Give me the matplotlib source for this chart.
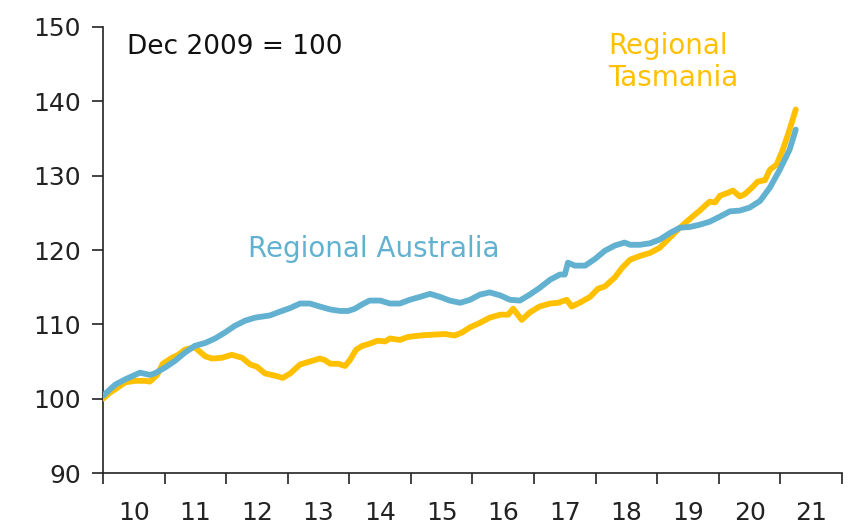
"""Regional Tasmania vs Regional Australia index (Dec 2009 = 100)."""

import matplotlib.pyplot as plt
from matplotlib.ticker import FixedLocator, NullFormatter

BLUE = "#62B1D0"
YELLOW = "#FFC000"

# Regional Australia: fractional years after Dec 2009, index values
aus_years = [
    0.00, 0.20, 0.36, 0.52, 0.60, 0.76, 0.84, 1.01, 1.17, 1.33, 1.49, 1.66,
    1.82, 1.98, 2.14, 2.31, 2.47, 2.71, 2.87, 3.04, 3.20, 3.36, 3.52, 3.69,
    3.85, 3.98, 4.09, 4.21, 4.33, 4.50, 4.66, 4.82, 4.98, 5.15, 5.31, 5.47,
    5.63, 5.80, 5.96, 6.12, 6.28, 6.45, 6.61, 6.77, 6.93, 7.09, 7.26, 7.42,
    7.50, 7.55, 7.66, 7.83, 7.99, 8.15, 8.31, 8.47, 8.56, 8.72, 8.88, 9.04,
    9.21, 9.37, 9.53, 9.69, 9.85, 10.02, 10.18, 10.34, 10.50, 10.67, 10.83,
    10.99, 11.15, 11.25,
]
aus_index = [
    100.4, 101.9, 102.6, 103.2, 103.5, 103.2, 103.4, 104.2, 105.1, 106.2,
    107.1, 107.5, 108.1, 108.9, 109.8, 110.5, 110.9, 111.2, 111.7, 112.2,
    112.8, 112.8, 112.4, 112.0, 111.8, 111.8, 112.1, 112.7, 113.2, 113.2,
    112.8, 112.8, 113.3, 113.7, 114.1, 113.7, 113.2, 112.9, 113.3, 114.0,
    114.3, 113.9, 113.3, 113.2, 114.0, 114.9, 116.0, 116.7, 116.7, 118.3,
    117.9, 117.9, 118.8, 119.9, 120.6, 121.0, 120.7, 120.7, 120.9, 121.4,
    122.3, 123.0, 123.1, 123.4, 123.8, 124.5, 125.2, 125.3, 125.7, 126.6,
    128.4, 130.8, 133.5, 136.2,
]

# Regional Tasmania
tas_years = [
    0.00, 0.11, 0.24, 0.36, 0.52, 0.68, 0.76, 0.88, 0.97, 1.12, 1.22, 1.33,
    1.49, 1.66, 1.77, 1.93, 2.09, 2.26, 2.39, 2.50, 2.63, 2.79, 2.92, 3.04,
    3.20, 3.36, 3.52, 3.60, 3.69, 3.82, 3.93, 4.01, 4.11, 4.21, 4.33, 4.46,
    4.58, 4.66, 4.82, 4.95, 5.15, 5.34, 5.55, 5.71, 5.83, 5.96, 6.12, 6.28,
    6.45, 6.58, 6.66, 6.80, 6.93, 7.09, 7.26, 7.39, 7.53, 7.61, 7.74, 7.91,
    8.04, 8.15, 8.31, 8.43, 8.56, 8.72, 8.88, 9.04, 9.21, 9.33, 9.45, 9.56,
    9.69, 9.85, 9.94, 10.02, 10.15, 10.23, 10.34, 10.42, 10.54, 10.63, 10.75,
    10.83, 10.94, 11.04, 11.15, 11.25,
]
tas_index = [
    100.0, 100.8, 101.5, 102.2, 102.4, 102.4, 102.3, 103.2, 104.7, 105.5,
    105.9, 106.6, 106.9, 105.7, 105.4, 105.5, 105.9, 105.5, 104.6, 104.3,
    103.4, 103.1, 102.8, 103.4, 104.6, 105.0, 105.4, 105.2, 104.7, 104.7,
    104.4, 105.2, 106.6, 107.1, 107.4, 107.8, 107.7, 108.1, 107.9, 108.3,
    108.5, 108.6, 108.7, 108.5, 108.9, 109.6, 110.2, 110.9, 111.3, 111.3,
    112.1, 110.6, 111.6, 112.4, 112.8, 112.9, 113.3, 112.4, 112.9, 113.7,
    114.8, 115.1, 116.3, 117.6, 118.7, 119.2, 119.6, 120.3, 121.7, 122.7,
    123.6, 124.4, 125.3, 126.5, 126.4, 127.3, 127.7, 128.0, 127.2, 127.5,
    128.4, 129.2, 129.4, 130.8, 131.5, 133.5, 136.2, 138.9,
]

year_labels = ["10", "11", "12", "13", "14", "15", "16", "17", "18", "19", "20", "21"]
y_ticks = [90, 100, 110, 120, 130, 140, 150]

START = 2010

fig = plt.figure(figsize=(8.6, 5.25), dpi=100)
ax = fig.add_axes([0.1198, 0.099, 0.979 - 0.1198, 0.9486 - 0.099])

ax.plot([START + t for t in tas_years], tas_index, color=YELLOW, lw=4.2,
        solid_joinstyle="round", solid_capstyle="round", zorder=3)
ax.plot([START + t for t in aus_years], aus_index, color=BLUE, lw=4.2,
        solid_joinstyle="round", solid_capstyle="round", zorder=4)

ax.set_xlim(START, START + len(year_labels))
ax.set_ylim(90, 150)

ax.set_yticks(y_ticks)
ax.tick_params(axis="y", direction="out", length=8, width=1.2, labelsize=18,
               pad=8, color="#222222", labelcolor="#222222")

ax.xaxis.set_major_locator(FixedLocator(range(START, START + len(year_labels) + 1)))
ax.xaxis.set_major_formatter(NullFormatter())
ax.set_xticks([START + i + 0.5 for i in range(len(year_labels))], minor=True)
ax.set_xticklabels(year_labels, minor=True)
ax.tick_params(axis="x", which="major", direction="out", length=8, width=1.2,
               color="#222222")
ax.tick_params(axis="x", which="minor", length=0, labelsize=18, pad=20,
               labelcolor="#222222")

for side in ("top", "right"):
    ax.spines[side].set_visible(False)
for side in ("left", "bottom"):
    ax.spines[side].set_color("#222222")
    ax.spines[side].set_linewidth(1.2)

ax.text(0.033, 0.955, "Dec 2009 = 100", transform=ax.transAxes, fontsize=19,
        color="#111111", va="center", ha="left")
ax.text(2012.35, 120.2, "Regional Australia", fontsize=20, color=BLUE,
        va="center", ha="left")
ax.text(2018.2, 145.3, "Regional\nTasmania", fontsize=20, color=YELLOW,
        va="center", ha="left", linespacing=1.2)

fig.savefig("out.png", dpi=100)
